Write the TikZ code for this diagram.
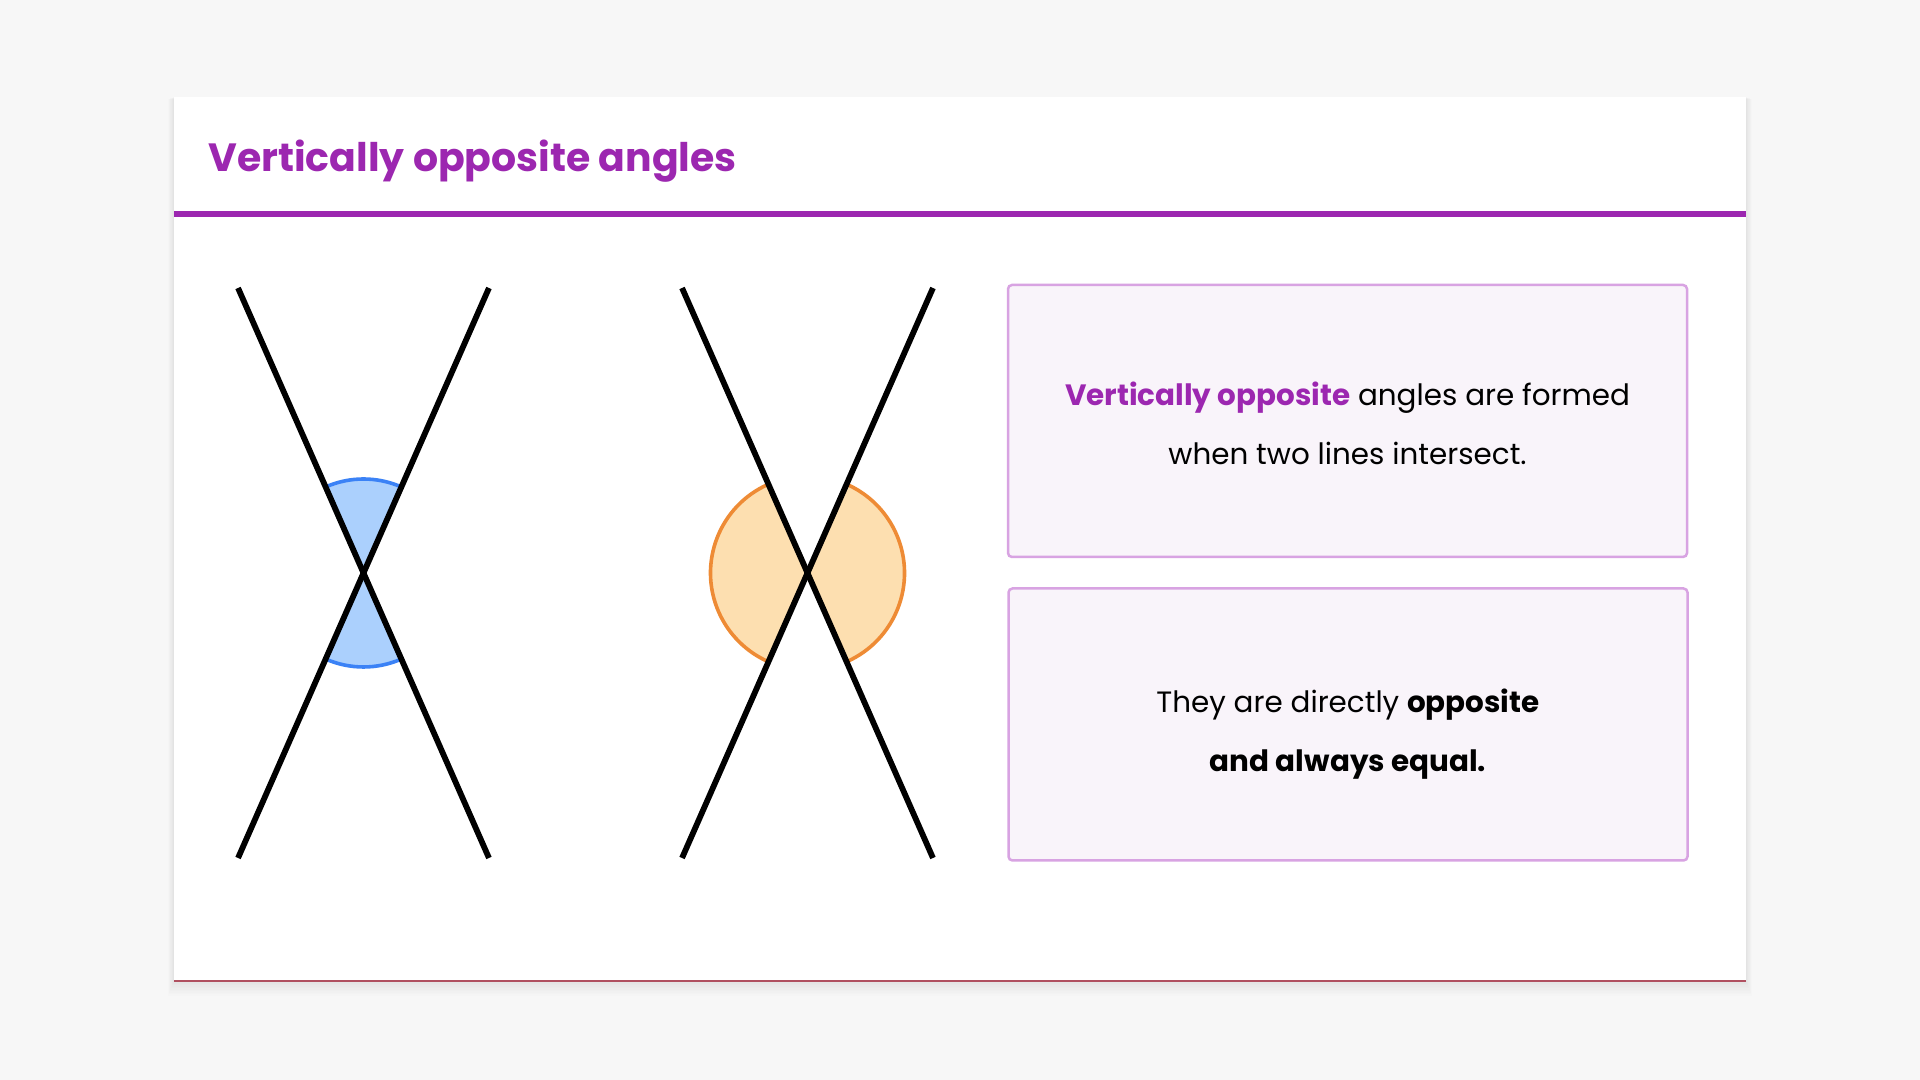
\documentclass[tikz,border=0pt]{standalone}
\usepackage{fontspec}
\setmainfont{Poppins}
\definecolor{pagebg}{HTML}{F7F7F7}
\definecolor{titlepurple}{HTML}{9C27B0}
\definecolor{boxline}{HTML}{D8A3E2}
\definecolor{boxfill}{HTML}{F9F4FA}
\definecolor{bluefill}{HTML}{ABD0FD}
\definecolor{bluearc}{HTML}{3B82F6}
\definecolor{orangefill}{HTML}{FDDFB0}
\definecolor{orangearc}{HTML}{EE8B35}
\definecolor{cardline}{HTML}{B05060}
\tikzset{
  xline/.style={line width=2.9pt,black},
  infobox/.style={draw=boxline,fill=boxfill,line width=1.25pt,rounded corners=2pt,
    minimum width=339.5pt,minimum height=136pt,inner sep=0pt},
  boxtext/.style={align=center,inner sep=0pt,font=\fontsize{14.7}{29.5}\selectfont},
  titletext/.style={text=titlepurple,font=\fontsize{19.7}{24}\selectfont\bfseries,inner sep=0pt}
}
\begin{document}
\begin{tikzpicture}[x=0.5pt,y=0.5pt]
  \def\ang{66.24}
  \def\len{311.4}
  \def\rb{94}
  \def\ro{97}
  \pgfmathsetmacro{\dlen}{2*\len}

  % page and card
  \useasboundingbox[fill=pagebg] (0,0) rectangle (1920,1080);
  \foreach \i in {1,...,10}
    \fill[black,opacity=0.006] (174-0.6*\i,99-1.5*\i) rectangle (1746+0.6*\i,983-0.2*\i);
  \fill[white] (174,99) rectangle (1746,983);
  \draw[cardline,line width=0.6pt] (174,99) -- (1746,99);
  \draw[titlepurple,line width=3pt] (174,866) -- (1746,866);
  \node[titletext,anchor=base west] (title) at (208,908) {Vertically opposite angles};

  \coordinate (L) at (363.5,507);
  \coordinate (R) at (807.5,507);

  % angle sectors
  \foreach \a in {0,180} {
    \fill[bluefill] (L) -- ++(\ang+\a:\rb) arc[start angle=\ang+\a,end angle=180-\ang+\a,radius=\rb] -- cycle;
    \draw[bluearc,line width=1.8pt] (L) ++(\ang+\a:\rb) arc[start angle=\ang+\a,end angle=180-\ang+\a,radius=\rb];
    \fill[orangefill] (R) -- ++(\a-\ang:\ro) arc[start angle=\a-\ang,end angle=\a+\ang,radius=\ro] -- cycle;
    \draw[orangearc,line width=1.8pt] (R) ++(\a-\ang:\ro) arc[start angle=\a-\ang,end angle=\a+\ang,radius=\ro];
  }

  % the two crossing pairs
  \foreach \c in {L,R} {
    \draw[xline] (\c) ++(\ang:\len) -- ++(\ang+180:\dlen);
    \draw[xline] (\c) ++(180-\ang:\len) -- ++(-\ang:\dlen);
  }

  \node[infobox] (formed) at (1347.5,659) {};
  \node[boxtext] (formedtext) at ([yshift=-1.3pt]formed.center)
    {\textbf{\color{titlepurple}Vertically opposite} angles are formed\\when two lines intersect.};
  \node[infobox] (equal) at (1348,355.5) {};
  \node[boxtext] (equaltext) at ([yshift=-5pt]equal.center)
    {They are directly \textbf{opposite}\\\textbf{and always equal.}};

\end{tikzpicture}
\end{document}
